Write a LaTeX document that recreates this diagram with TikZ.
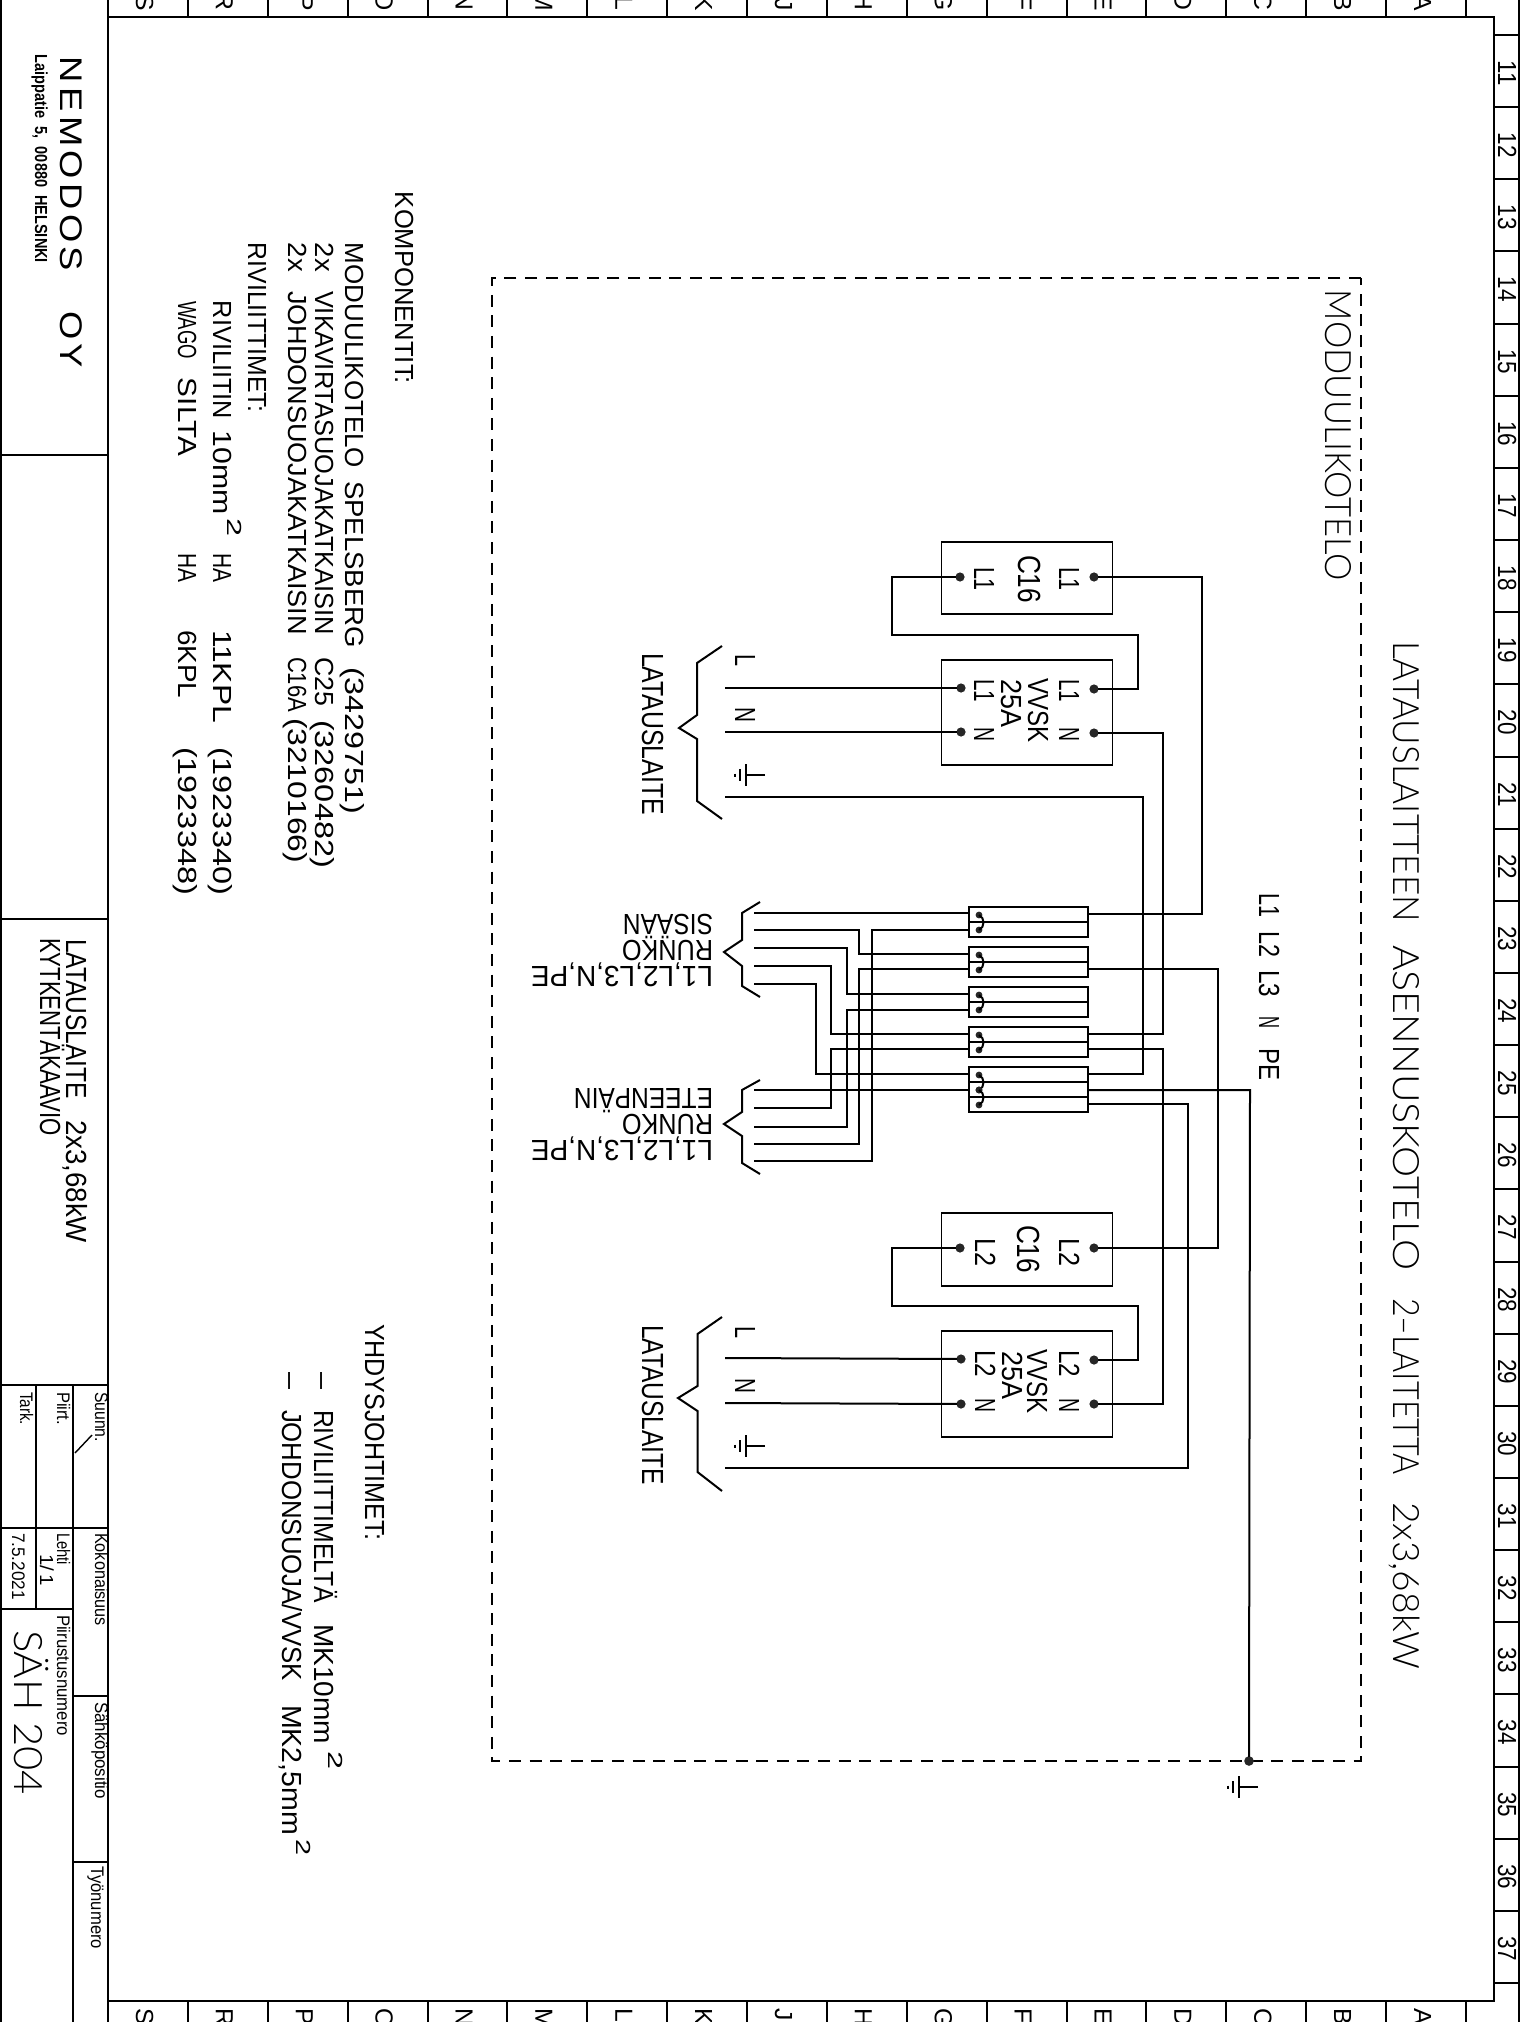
\documentclass[tikz,border=0pt]{standalone}
\usepackage{fontspec}
\usepackage{graphicx}
\setmainfont{Liberation Sans}
\newfontfamily\nemofont[LetterSpace=12]{Liberation Sans}
\newfontfamily\lightf{Lato Light}
\newcommand\capf[1]{\fontsize{\fpeval{#1*0.727}}{\fpeval{#1*0.9}}\selectfont}
\newcommand\W[2]{\resizebox{\fpeval{#1*0.5}pt}{\height}{#2}}
\newcommand\G[1]{\hspace*{\fpeval{#1*0.5}pt}}
\newcommand\SUP[2]{\raisebox{7pt}{\capf{14}\W{#1}{#2}}}
\tikzset{
  wire/.style={line width=1pt,line cap=rect,line join=miter},
  frameline/.style={line width=1pt},
  txt/.style={inner sep=0pt,outer sep=0pt,anchor=base west},
  conn/.style={circle,fill=black!85,inner sep=0pt,minimum size=4.6pt},
  jdot/.style={circle,fill=black!85,inner sep=0pt,minimum size=3.4pt},
  boxd/.style={draw,line width=0.9pt,inner sep=0pt,minimum width=85.5pt},
  termb/.style={draw,line width=0.9pt,inner sep=0pt,minimum width=59.5pt},
  boundary/.style={line width=0.9pt,dash pattern=on 6pt off 4.3pt}
}
\newcommand\TXT[6]{\node[txt,rotate=#4] (#1) at (#2,#3) {\capf{#5}#6};}
\newcommand\earth[2]{%
  \draw[line width=0.8pt] (#1,#2) -- ({#1-19},#2);
  \draw[line width=0.8pt] ({#1-19},{#2-11}) -- ({#1-19},{#2+11});
  \draw[line width=0.8pt] ({#1-25},{#2-6}) -- ({#1-25},{#2+6});
  \draw[line width=0.8pt] ({#1-30},{#2-1.5}) -- ({#1-30},{#2+1.5});}
\newcommand\jump[2]{\draw[line width=1pt] (979,#1) .. controls (985,{#1+3}) and (985,{#2-3}) .. (979,#2);}
\begin{document}
\begin{tikzpicture}[x=0.5pt,y=-0.5pt]
\clip (0,0) rectangle (1522,2022);
% ---------- sheet frame ----------
\draw[frameline] (1,0) -- (1,2022);
\draw[frameline] (1519,0) -- (1519,2022);
\draw[frameline] (108,0) -- (108,2022);
\draw[frameline] (108,17) -- (1494,17) -- (1494,2001) -- (108,2001);
\foreach \i [evaluate=\i as \xx using 108+\i*79.88] in {1,...,17}{
  \draw[frameline] (\xx,0) -- (\xx,17);
  \draw[frameline] (\xx,2001) -- (\xx,2022);
}
\foreach \l [count=\i from 0, evaluate=\i as \xx using 136+\i*79.88] in {S,R,P,O,N,M,L,K,J,H,G,F,E,D,C,B,A}{
  \node[inner sep=0pt,anchor=base east,rotate=-90] (top\l) at (\xx,11) {\capf{17}\l};
  \node[inner sep=0pt,anchor=base west,rotate=-90] (bot\l) at (\xx,2008) {\capf{17}\l};
}
\foreach \i [evaluate=\i as \yy using 35+\i*72.15] in {0,...,27}{
  \draw[frameline] (1494,\yy) -- (1519,\yy);
}
\foreach \n [count=\i from 0, evaluate=\i as \yy using 73+\i*72.15] in {11,...,37}{
  \node[inner sep=0pt,anchor=base,rotate=-90] (num\n) at (1498,\yy) {\capf{18}\W{25}{\n}};
}
% ---------- title block ----------
\draw[frameline] (1,455) -- (108,455);
\draw[frameline] (1,919) -- (108,919);
\draw[frameline] (1,1385) -- (108,1385);
\draw[frameline] (1,1528) -- (108,1528);
\draw[frameline] (1,1609) -- (73,1609);
\draw[frameline] (73,1696) -- (108,1696);
\draw[frameline] (73,1862) -- (108,1862);
\draw[frameline] (73,1385) -- (73,2022);
\draw[frameline] (36,1385) -- (36,1609);
\draw[line width=0.7pt] (75,1453) -- (92,1435);
\node[txt,rotate=-90] (nemo) at (60,57) {\capf{21.5}\nemofont\W{311}{NEMODOS\hspace{1.1em}OY}};
\TXT{addr}{35}{55}{-90}{12}{\bfseries\W{208}{Laippatie\ \ 5,\ \ 00880\ \ HELSINKI}}
\TXT{tb1}{66}{939}{-90}{20}{\W{160}{LATAUSLAITE}\G{21}\W{123}{2x3,68kW}}
\TXT{tb2}{40}{938}{-90}{20}{\W{198}{KYTKENTÄKAAVIO}}
\TXT{suunn}{95}{1392}{-90}{12.5}{\W{50}{Suunn.}}
\TXT{piirt}{57}{1392}{-90}{12.5}{\W{33}{Piirt.}}
\TXT{tark}{20}{1392}{-90}{12.5}{\W{33}{Tark.}}
\TXT{kok}{95}{1533}{-90}{12.5}{\W{93}{Kokonaisuus}}
\TXT{lehti}{57}{1533}{-90}{12.5}{\W{32}{Lehti}}
\TXT{lehtin}{40}{1554}{-90}{13}{\W{32}{1/\,1}}
\TXT{pvm}{12}{1533}{-90}{12.5}{\W{67}{7.5.2021}}
\TXT{piirnro}{57}{1615}{-90}{12.5}{\W{121}{Piirustusnumero}}
\TXT{sahko}{95}{1702}{-90}{12.5}{\W{97}{Sähköpositio}}
\TXT{tyo}{91}{1866}{-90}{12.5}{\W{83}{Työnumero}}
\TXT{sah}{15}{1630}{-90}{27}{\lightf\W{165}{SÄH\ 204}}
% ---------- lists ----------
\TXT{komp}{395}{192}{-90}{18}{\W{192}{KOMPONENTIT:}}
\TXT{kompa}{345}{243}{-90}{18}{\W{225}{MODUULIKOTELO}\G{13}\W{167}{SPELSBERG}\G{19}\W{147}{(3429751)}}
\TXT{kompb}{315}{243}{-90}{18}{\W{29}{2x}\G{19}\W{344}{VIKAVIRTASUOJAKATKAISIN}\G{22}\W{49}{C25}\G{14}\W{148}{(3260482)}}
\TXT{kompc}{288}{243}{-90}{18}{\W{29}{2x}\G{19}\W{344}{JOHDONSUOJAKATKAISIN}\G{22}\W{55}{C16A}\G{6}\W{145}{(3210166)}}
\TXT{kompd}{248}{243}{-90}{18}{\W{169}{RIVILIITTIMET:}}
\TXT{kompe}{213}{301}{-90}{18}{\W{118}{RIVILIITIN}\G{12}\W{84}{10mm}\G{3}\SUP{18}{2}\G{17}\W{29}{HA}\G{48}\W{93}{11KPL}\G{24}\W{148}{(1923340)}}
\TXT{kompf}{178}{301}{-90}{18}{\W{58}{WAGO}\G{19}\W{78}{SILTA}\G{97}\W{29}{HA}\G{48}\W{68}{6KPL}\G{49}\W{148}{(1923348)}}
\TXT{yhd}{365}{1324}{-90}{19}{\W{216}{YHDYSJOHTIMET:}}
\TXT{yhda}{314}{1372}{-90}{19}{\W{17}{–}\G{21}\W{193}{RIVILIITTIMELTÄ}\G{21}\W{120}{MK10mm}\G{7}\SUP{18}{2}}
\TXT{yhdb}{282}{1372}{-90}{19}{\W{17}{–}\G{21}\W{271}{JOHDONSUOJA/VVSK}\G{24}\W{130}{MK2,5mm}\G{4}\SUP{16}{2}}
% ---------- enclosure ----------
\draw[boundary] (1361,278) -- (492,278) -- (492,1761) -- (1361,1761) -- cycle;
\TXT{encl}{1325}{290}{-90}{25}{\lightf\W{291}{MODUULIKOTELO}}
\TXT{title}{1393}{641}{-90}{25}{\lightf\W{281}{LATAUSLAITTEEN}\G{23}\W{326}{ASENNUSKOTELO}\G{27}\W{177}{2–LAITETTA}\G{27}\W{167}{2x3,68kW}}
\TXT{phases}{1259}{893}{-90}{20}{\W{24}{L1}\G{14}\W{26}{L2}\G{13}\W{27}{L3}\G{19}\W{12}{N}\G{20}\W{32}{PE}}
% ---------- breakers ----------
\node[boxd,minimum height=36pt] (c1) at (1027,578) {};
\node[boxd,minimum height=52.5pt] (v1) at (1027,712.5) {};
\node[boxd,minimum height=36.5pt] (c2) at (1027,1249.5) {};
\node[boxd,minimum height=53pt] (v2) at (1027,1384) {};
\TXT{c1r}{1059}{567}{-90}{20}{\W{24}{L1}}
\TXT{c1m}{1018}{555}{-90}{22}{\W{48}{C16}}
\TXT{c1l}{974}{567}{-90}{20}{\W{24}{L1}}
\TXT{v1r}{1059}{679}{-90}{20}{\W{23}{L1}\G{25}\W{14}{N}}
\TXT{v1m}{1028}{678}{-90}{20}{\W{64}{VVSK}}
\TXT{v1a}{1001}{679}{-90}{20}{\W{48}{25A}}
\TXT{v1l}{974}{679}{-90}{20}{\W{23}{L1}\G{25}\W{14}{N}}
\TXT{c2r}{1059}{1238}{-90}{20}{\W{28}{L2}}
\TXT{c2m}{1017}{1225}{-90}{22}{\W{48}{C16}}
\TXT{c2l}{975}{1238}{-90}{20}{\W{28}{L2}}
\TXT{v2r}{1059}{1350}{-90}{20}{\W{27}{L2}\G{21}\W{14}{N}}
\TXT{v2m}{1027}{1349}{-90}{20}{\W{64}{VVSK}}
\TXT{v2a}{1002}{1351}{-90}{20}{\W{48}{25A}}
\TXT{v2l}{975}{1350}{-90}{20}{\W{27}{L2}\G{21}\W{14}{N}}
\node[conn] (c1o) at (1094,577) {};
\node[conn] (c1i) at (960,577) {};
\node[conn] (v1Lr) at (1094,689) {};
\node[conn] (v1Nr) at (1094,733) {};
\node[conn] (v1Ll) at (961,688) {};
\node[conn] (v1Nl) at (961,732) {};
\node[conn] (c2o) at (1094,1248) {};
\node[conn] (c2i) at (960,1248) {};
\node[conn] (v2Lr) at (1094,1360) {};
\node[conn] (v2Nr) at (1094,1404) {};
\node[conn] (v2Ll) at (961,1359) {};
\node[conn] (v2Nl) at (961,1404) {};
% ---------- terminal blocks ----------
\node[termb,minimum height=15pt] (t1) at (1028.5,922) {};
\node[termb,minimum height=15pt] (t2) at (1028.5,962) {};
\node[termb,minimum height=15pt] (t3) at (1028.5,1002) {};
\node[termb,minimum height=15pt] (t4) at (1028.5,1042) {};
\node[termb,minimum height=22.5pt] (t5) at (1028.5,1089.5) {};
\foreach \b/\yy in {t1/922,t2/962,t3/1002,t4/1042,t5/1082,t5/1097}{
  \draw[wire] (969,\yy) -- (1088,\yy);
}
\foreach \a/\bb in {915/930,955/970,995/1010,1035/1050,1075/1090,1090/1105}{
  \node[jdot] (ja\a) at (979,\a) {};
  \node[jdot] (jb\bb) at (979,\bb) {};
  \jump{\a}{\bb}
}
% ---------- connection points ----------
\coordinate (t1i) at (969,913);   \coordinate (t1j) at (969,930);
\coordinate (t2i) at (969,954);   \coordinate (t2j) at (969,969);
\coordinate (t3i) at (969,994);   \coordinate (t3j) at (969,1010);
\coordinate (t4i) at (969,1034);  \coordinate (t4j) at (969,1049);
\coordinate (t5i) at (969,1074);  \coordinate (t5j) at (969,1090);
\coordinate (t1o) at (1088,914);  \coordinate (t2o) at (1088,969);
\coordinate (t4o) at (1088,1034); \coordinate (t4p) at (1088,1049);
\coordinate (t5o) at (1088,1074); \coordinate (t5p) at (1088,1090); \coordinate (t5q) at (1088,1104);
\coordinate (a1) at (755,913);  \coordinate (a2) at (755,930);  \coordinate (a3) at (755,948);
\coordinate (a4) at (755,966);  \coordinate (a5) at (755,984);
\coordinate (b1) at (755,1090); \coordinate (b2) at (755,1108); \coordinate (b3) at (755,1127);
\coordinate (b4) at (755,1144); \coordinate (b5) at (755,1161);
\coordinate (lL1) at (726,688); \coordinate (lN1) at (726,732); \coordinate (lE1) at (726,797);
\coordinate (lL2) at (726,1358);\coordinate (lN2) at (726,1403);\coordinate (lE2) at (726,1468);
\node[circle,fill=black!85,inner sep=0pt,minimum size=4.8pt] (pe) at (1249,1761) {};
% ---------- wires ----------
\draw[wire] (lL1) -- (v1Ll);
\draw[wire] (lN1) -- (v1Nl);
\draw[wire] (lL2) -- (v2Ll);
\draw[wire] (lN2) -- (v2Nl);
\draw[wire] (c1i) -- (892,577) -- (892,635) -- (1138,635) -- (1138,689) -- (v1Lr);
\draw[wire] (c2i) -- (892,1248) -- (892,1306) -- (1138,1306) -- (1138,1360) -- (v2Lr);
\draw[wire] (c1o) -- (1202,577) -- (1202,914) -- (t1o);
\draw[wire] (v1Nr) -- (1163,733) -- (1163,1034) -- (t4o);
\draw[wire] (lE1) -- (1143,797) -- (1143,1074) -- (t5o);
\draw[wire] (c2o) -- (1218,1248) -- (1218,969) -- (t2o);
\draw[wire] (v2Nr) -- (1163,1404) -- (1163,1049) -- (t4p);
\draw[wire] (lE2) -- (1188,1468) -- (1188,1104) -- (t5q);
\draw[wire] (t5p) -- (1250,1090) -- (pe);
\draw[wire] (a1) -- (t1i);
\draw[wire] (a2) -- (859,930) -- (859,954) -- (t2i);
\draw[wire] (a3) -- (847,948) -- (847,994) -- (t3i);
\draw[wire] (a4) -- (831,966) -- (831,1034) -- (t4i);
\draw[wire] (a5) -- (816,984) -- (816,1074) -- (t5i);
\draw[wire] (b1) -- (t5j);
\draw[wire] (b2) -- (831,1108) -- (831,1049) -- (t4j);
\draw[wire] (b3) -- (847,1127) -- (847,1010) -- (t3j);
\draw[wire] (b4) -- (859,1144) -- (859,969) -- (t2j);
\draw[wire] (b5) -- (872,1161) -- (872,930) -- (t1j);
% ---------- braces ----------
\draw[wire,line cap=butt] (722,646) -- (697,663) -- (697,715) -- (679,728) -- (697,739) -- (697,801) -- (722,819);
\draw[wire,line cap=butt] (722,1317) -- (697.5,1334) -- (697.5,1386) -- (678,1398) -- (697.5,1411) -- (697.5,1472) -- (722,1491);
\draw[wire,line cap=butt] (760,902) -- (742,913) -- (742,940) -- (724,952) -- (742,966) -- (742,986) -- (760,997);
\draw[wire,line cap=butt] (760,1080) -- (742,1090) -- (742,1112) -- (724,1124) -- (742,1136) -- (742,1163) -- (760,1174);
% ---------- connector labels ----------
\TXT{pl1}{735}{654}{-90}{20}{\W{12}{L}}
\TXT{pn1}{735}{707}{-90}{20}{\W{15}{N}}
\TXT{pl2}{735}{1326}{-90}{20}{\W{12}{L}}
\TXT{pn2}{735}{1378}{-90}{20}{\W{15}{N}}
\TXT{lat1}{642}{653}{-90}{21}{\W{162}{LATAUSLAITE}}
\TXT{lat2}{642}{1325}{-90}{21}{\W{160}{LATAUSLAITE}}
\TXT{sis}{713}{914}{180}{20}{\W{90}{SISÄÄN}}
\TXT{runa}{713}{940}{180}{20}{\W{91}{RUNKO}}
\TXT{lla}{713}{966}{180}{20}{\W{182}{L1,L2,L3,N,PE}}
\TXT{ete}{713}{1088}{180}{20}{\W{139}{ETEENPÄIN}}
\TXT{runb}{713}{1114}{180}{20}{\W{91}{RUNKO}}
\TXT{llb}{713}{1140}{180}{20}{\W{182}{L1,L2,L3,N,PE}}
% ---------- earth symbols ----------
\earth{765}{775}
\earth{765}{1446}
\earth{1258}{1787}
\end{tikzpicture}
\end{document}
